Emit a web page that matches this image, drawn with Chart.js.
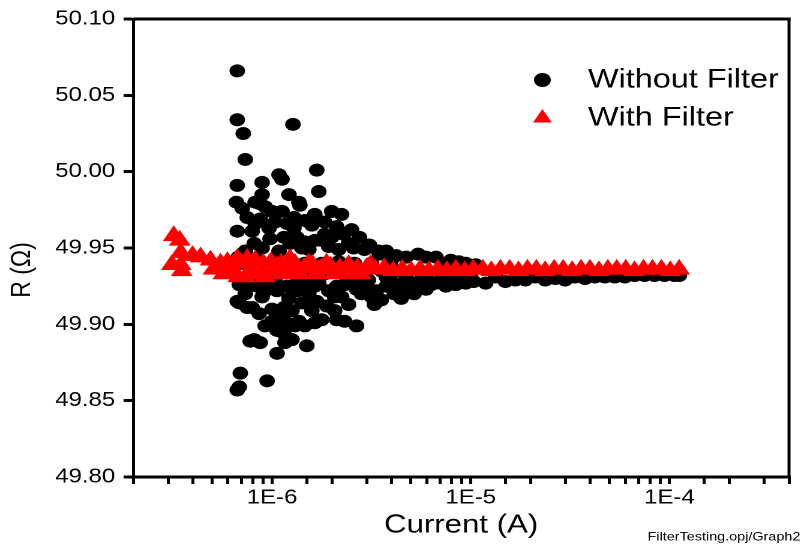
<!DOCTYPE html>
<html>
<head>
<meta charset="utf-8">
<title>R vs Current</title>
<script src="https://cdn.jsdelivr.net/npm/chart.js"></script>
<style>
  html, body { margin: 0; padding: 0; background: #fff; overflow: hidden; }
  /* the original export is stretched sideways, so the chart is drawn narrower and widened */
  #wrap { position: absolute; left: 0; top: 0; width: 668px; height: 550px;
          transform: scaleX(1.2); transform-origin: 0 0; }
</style>
</head>
<body>
<div id="wrap"><canvas id="chart"></canvas></div>
<script>
// Without Filter: current (A) and resistance (ohm)
const noFilterCurrent = [
  6.61e-7, 6.68e-7, 6.68e-7, 6.68e-7, 6.68e-7, 6.68e-7, 6.68e-7, 6.76e-7, 6.84e-7, 6.84e-7,
  6.84e-7, 6.92e-7, 7.08e-7, 7.08e-7, 7.16e-7, 7.33e-7, 7.33e-7, 7.50e-7, 7.67e-7, 7.76e-7,
  7.94e-7, 7.94e-7, 7.94e-7, 8.13e-7, 8.13e-7, 8.22e-7, 8.41e-7, 8.61e-7, 8.71e-7, 8.71e-7,
  8.71e-7, 8.91e-7, 8.91e-7, 8.91e-7, 8.91e-7, 9.44e-7, 9.44e-7, 9.66e-7, 9.77e-7, 9.77e-7,
  1.00e-6, 1.00e-6, 1.00e-6, 1.035e-6, 1.059e-6, 1.059e-6, 1.084e-6, 1.084e-6, 1.122e-6, 1.122e-6,
  1.122e-6, 1.148e-6, 1.148e-6, 1.148e-6, 1.161e-6, 1.161e-6, 1.216e-6, 1.216e-6, 1.216e-6, 1.230e-6,
  1.274e-6, 1.288e-6, 1.288e-6, 1.303e-6, 1.334e-6, 1.334e-6, 1.365e-6, 1.365e-6, 1.380e-6, 1.413e-6,
  1.413e-6, 1.462e-6, 1.462e-6, 1.462e-6, 1.462e-6, 1.496e-6, 1.496e-6, 1.531e-6, 1.531e-6, 1.585e-6,
  1.603e-6, 1.679e-6, 1.679e-6, 1.718e-6, 1.718e-6, 1.778e-6, 1.778e-6, 1.778e-6, 1.841e-6, 1.928e-6,
  1.928e-6, 1.950e-6, 1.995e-6, 1.995e-6, 2.065e-6, 2.113e-6, 2.163e-6, 2.163e-6, 2.239e-6, 2.239e-6,
  2.291e-6, 2.317e-6, 2.371e-6, 2.427e-6, 2.427e-6, 2.570e-6, 2.600e-6, 2.600e-6, 2.661e-6, 2.754e-6,
  2.818e-6, 2.851e-6, 2.917e-6, 3.055e-6, 3.090e-6, 3.162e-6, 3.273e-6, 3.428e-6, 3.467e-6, 3.35e-6,
  3.548e-6, 3.758e-6, 3.758e-6, 3.981e-6, 4.121e-6, 4.467e-6, 4.732e-6, 4.732e-6, 4.842e-6, 5.309e-6,
  5.433e-6, 5.957e-6, 5.957e-6, 6.683e-6, 6.683e-6, 7.499e-6, 7.499e-6, 8.414e-6, 8.71e-6, 9.44e-6,
  9.44e-6, 1.035e-5, 1.059e-5, 1.189e-5, 1.334e-5, 1.496e-5, 1.679e-5, 1.884e-5, 2.113e-5, 2.371e-5,
  2.661e-5, 2.985e-5, 3.35e-5, 3.758e-5, 4.217e-5, 4.732e-5, 5.309e-5, 5.957e-5, 6.683e-5, 7.499e-5,
  8.414e-5, 9.441e-5, 1.059e-4, 1.122e-4,
  7.50e-7, 8.22e-7, 9.23e-7, 1.035e-6, 1.189e-6, 1.334e-6, 1.641e-6, 1.641e-6, 1.841e-6, 2.113e-6,
  2.512e-6, 7.33e-7, 8.41e-7, 9.23e-7, 1.035e-6, 1.189e-6, 1.259e-6, 1.413e-6, 1.641e-6, 1.841e-6,
  2.065e-6, 2.317e-6, 2.661e-6, 2.985e-6, 3.162e-6, 3.548e-6, 3.981e-6, 4.315e-6, 5.012e-6, 5.623e-6,
  6.310e-6, 7.079e-6, 7.943e-6, 8.913e-6, 1.0e-5, 8.61e-7, 9.23e-7, 1.084e-6, 1.259e-6, 1.303e-6,
  1.585e-6, 1.641e-6, 1.884e-6, 2.113e-6, 1.059e-6, 1.259e-6, 3.758e-6, 4.217e-6, 5.957e-6, 7.943e-6,
  9.44e-6, 4.467e-6, 5.188e-6
];
const noFilterR = [
  49.980, 50.066, 50.034, 49.991, 49.961, 49.915, 49.857, 49.944, 49.926, 49.914,
  49.859, 49.868, 49.976, 49.940, 50.025, 50.008, 49.920, 49.911, 49.927, 49.889,
  49.961, 49.935, 49.911, 49.953, 49.890, 49.980, 49.925, 49.942, 49.979, 49.969,
  49.888, 49.993, 49.985, 49.950, 49.918, 49.931, 49.863, 49.963, 49.956, 49.924,
  49.974, 49.910, 49.902, 49.940, 49.922, 49.881, 49.998, 49.948, 49.995, 49.974,
  49.935, 49.957, 49.911, 49.894, 49.902, 49.888, 49.985, 49.941, 49.917, 49.953,
  50.031, 49.970, 49.963, 49.926, 49.933, 49.922, 49.980, 49.902, 49.978, 49.950,
  49.914, 49.968, 49.954, 49.940, 49.899, 49.931, 49.886, 49.949, 49.920, 49.965,
  49.931, 50.001, 49.915, 49.987, 49.927, 49.955, 49.940, 49.903, 49.967, 49.951,
  49.922, 49.935, 49.974, 49.957, 49.909, 49.925, 49.949, 49.941, 49.972, 49.918,
  49.959, 49.902, 49.931, 49.953, 49.913, 49.950, 49.940, 49.928, 49.899, 49.957,
  49.920, 49.935, 49.949, 49.929, 49.952, 49.940, 49.913, 49.948, 49.946, 49.922,
  49.916, 49.931, 49.925, 49.942, 49.920, 49.926, 49.944, 49.931, 49.922, 49.925,
  49.946, 49.931, 49.923, 49.944, 49.927, 49.940, 49.925, 49.926, 49.941, 49.931,
  49.927, 49.928, 49.939, 49.927, 49.931, 49.928, 49.929, 49.929, 49.931, 49.929,
  49.930, 49.929, 49.931, 49.930, 49.931, 49.931, 49.931, 49.931, 49.932, 49.932,
  49.932, 49.932, 49.932, 49.932,
  49.970, 49.966, 49.977, 49.967, 49.966, 49.957, 49.972, 49.955, 49.959, 49.964,
  49.962, 49.948, 49.938, 49.922, 49.929, 49.925, 49.936, 49.925, 49.925, 49.933,
  49.918, 49.926, 49.923, 49.926, 49.918, 49.935, 49.928, 49.935, 49.927, 49.929,
  49.926, 49.929, 49.928, 49.929, 49.931, 49.907, 49.899, 49.905, 49.909, 49.899,
  49.909, 49.901, 49.912, 49.903, 49.896, 49.890, 49.948, 49.945, 49.944, 49.942,
  49.940, 49.917, 49.920
];

// With Filter
const filterCurrent = [
  3.20e-7, 3.43e-7, 3.47e-7, 3.13e-7, 3.47e-7, 3.51e-7, 3.98e-7, 4.37e-7, 4.90e-7, 5.07e-7,
  5.50e-7, 5.96e-7, 6.68e-7, 6.76e-7, 7.50e-7, 7.33e-7, 8.22e-7, 9.02e-7, 9.23e-7, 9.89e-7,
  1.12e-6, 1.23e-6, 1.38e-6, 1.68e-6, 1.88e-6, 2.07e-6, 2.51e-6,
  6.31e-7, 7.94e-7, 8.61e-7, 1.01e-6, 1.11e-6, 1.25e-6, 1.53e-6, 1.72e-6, 2.26e-6, 2.79e-6,
  3.13e-6, 7.00e-7, 5.69e-7,
  1.06e-6, 1.17e-6, 1.30e-6, 1.45e-6, 1.60e-6, 1.78e-6, 1.97e-6, 2.19e-6, 2.43e-6, 2.69e-6,
  2.99e-6, 3.31e-6, 3.67e-6, 4.07e-6, 4.52e-6, 5.01e-6, 5.56e-6, 6.17e-6, 6.84e-6, 7.59e-6,
  8.41e-6, 9.33e-6, 1.03e-5, 1.15e-5, 1.27e-5, 1.41e-5, 1.57e-5, 1.74e-5, 1.93e-5, 2.14e-5,
  2.37e-5, 2.63e-5, 2.92e-5, 3.24e-5, 3.59e-5, 3.98e-5, 4.42e-5, 4.90e-5, 5.43e-5, 6.03e-5,
  6.68e-5, 7.41e-5, 8.22e-5, 9.12e-5, 1.01e-4, 1.12e-4
];
const filterR = [
  49.958, 49.955, 49.947, 49.939, 49.939, 49.935, 49.945, 49.944, 49.942, 49.936,
  49.940, 49.941, 49.943, 49.931, 49.943, 49.931, 49.942, 49.940, 49.931, 49.941,
  49.933, 49.943, 49.933, 49.933, 49.940, 49.933, 49.933,
  49.935, 49.936, 49.933, 49.935, 49.940, 49.935, 49.940, 49.936, 49.935, 49.933,
  49.939, 49.940, 49.933,
  49.938, 49.937, 49.940, 49.937, 49.939, 49.937, 49.938, 49.937, 49.939, 49.937,
  49.937, 49.936, 49.937, 49.935, 49.936, 49.935, 49.936, 49.935, 49.936, 49.935,
  49.936, 49.935, 49.936, 49.936, 49.935, 49.936, 49.936, 49.935, 49.936, 49.936,
  49.935, 49.936, 49.936, 49.935, 49.936, 49.936, 49.935, 49.936, 49.936, 49.936,
  49.935, 49.936, 49.936, 49.936, 49.935, 49.936
];

const xMin = 2e-7, xMax = 4e-4;
const yMin = 49.80, yMax = 50.10, yStep = 0.05;

const FONT = '"Liberation Sans", Arial, sans-serif';
Chart.defaults.font.family = FONT;
Chart.defaults.color = '#000';

function toPoints(xs, ys) {
  return xs.map((x, i) => ({ x: x, y: ys[i] }));
}

// frame on top/right, y title, legend inside the plot and the file tag at the bottom
const extrasPlugin = {
  id: 'extras',
  afterDraw(chart) {
    const ctx = chart.ctx;
    const a = chart.chartArea;
    ctx.save();
    ctx.strokeStyle = '#000';
    ctx.lineWidth = 3;
    ctx.beginPath();
    ctx.moveTo(a.left, a.top);
    ctx.lineTo(a.right + 1.2, a.top);
    ctx.stroke();
    ctx.lineWidth = 2.5;
    ctx.beginPath();
    ctx.moveTo(a.right, a.top - 1.5);
    ctx.lineTo(a.right, a.bottom + 1.5);
    ctx.stroke();

    // y axis title, sits a bit below the axis middle in the original
    ctx.save();
    ctx.translate(18.5, 270);
    ctx.rotate(-Math.PI / 2);
    ctx.fillStyle = '#000';
    ctx.font = '23px ' + FONT;
    ctx.textAlign = 'center';
    ctx.textBaseline = 'middle';
    ctx.fillText('R (Ω)', 0, 0);
    ctx.restore();

    const ds = chart.data.datasets;
    const rows = [80, 118];
    ds.forEach((d, i) => {
      const y = rows[i];
      const mx = 452;
      ctx.fillStyle = d.backgroundColor;
      ctx.beginPath();
      if (d.pointStyle === 'triangle') {
        const r = 9;
        ctx.moveTo(mx, y - r);
        ctx.lineTo(mx + r * Math.sin(Math.PI / 3), y + r / 2);
        ctx.lineTo(mx - r * Math.sin(Math.PI / 3), y + r / 2);
        ctx.closePath();
      } else {
        ctx.arc(mx, y, 7, 0, Math.PI * 2);
      }
      ctx.fill();
      ctx.fillStyle = '#000';
      ctx.font = '27px ' + FONT;
      ctx.textAlign = 'left';
      ctx.textBaseline = 'middle';
      ctx.fillText(d.label, 490, y);
    });

    ctx.font = '12px ' + FONT;
    ctx.textAlign = 'right';
    ctx.fillText('FilterTesting.opj/Graph2', chart.width - 1, 537);
    ctx.restore();
  }
};

new Chart(document.getElementById('chart'), {
  type: 'scatter',
  data: {
    datasets: [
      {
        label: 'Without Filter',
        data: toPoints(noFilterCurrent, noFilterR),
        pointStyle: 'circle',
        pointRadius: 6.5,
        backgroundColor: '#000000',
        borderWidth: 0,
        order: 1
      },
      {
        label: 'With Filter',
        data: toPoints(filterCurrent, filterR),
        pointStyle: 'triangle',
        pointRadius: 10.5,
        backgroundColor: '#ff0000',
        borderWidth: 0,
        order: 0
      }
    ]
  },
  options: {
    responsive: true,
    maintainAspectRatio: false,
    devicePixelRatio: 2,
    animation: false,
    layout: { padding: { left: 0, right: 7, top: 16, bottom: 0 } },
    plugins: {
      legend: { display: false },
      tooltip: { enabled: false }
    },
    scales: {
      x: {
        type: 'logarithmic',
        position: 'bottom',
        min: xMin,
        max: xMax,
        afterFit: (s) => { s.height = 73; },
        border: { display: true, color: '#000', width: 3 },
        grid: { drawOnChartArea: false, drawTicks: true, tickLength: 7, tickColor: '#000', tickWidth: 2.5, lineWidth: 2.5 },
        ticks: {
          autoSkip: false,
          maxRotation: 0,
          padding: 2,
          color: '#000',
          font: { size: 20 },
          callback: (v) => {
            const e = Math.round(Math.log10(v));
            return Math.abs(v / Math.pow(10, e) - 1) < 1e-6 ? '1E' + e : '';
          }
        },
        title: {
          display: true,
          text: 'Current (A)',
          color: '#000',
          font: { size: 26 },
          padding: { top: 0, bottom: 9 }
        }
      },
      y: {
        min: yMin,
        max: yMax,
        afterFit: (s) => { s.width = 111; },
        border: { display: true, color: '#000', width: 2.5 },
        grid: { drawOnChartArea: false, drawTicks: true, tickLength: 8, tickColor: '#000', tickWidth: 3, lineWidth: 3 },
        ticks: {
          stepSize: yStep,
          padding: 7,
          color: '#000',
          font: { size: 20 },
          callback: (v) => v.toFixed(2)
        }
      }
    }
  },
  plugins: [extrasPlugin]
});
</script>
</body>
</html>
